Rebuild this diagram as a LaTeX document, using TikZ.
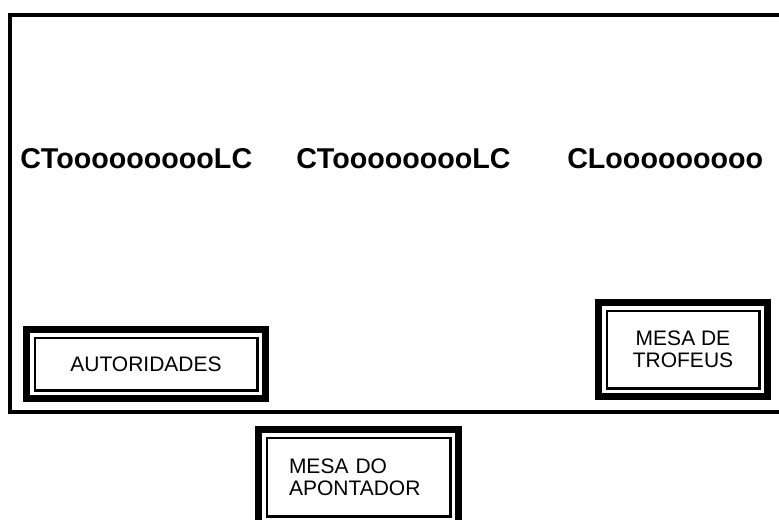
\documentclass[tikz,border=0pt]{standalone}
\usepackage{fontspec}
\setmainfont{Liberation Sans}
\usetikzlibrary{fit}
\begin{document}
\begin{tikzpicture}[x=0.75pt,y=-0.75pt,
  frameline/.style={line width=3pt,line join=miter,line cap=butt},
  boxtext/.style={font=\fontsize{15.75}{16.5}\selectfont},
  innerbox/.style={draw,line width=1.875pt,inner sep=0pt,boxtext,align=center},
  outerbox/.style={draw,line width=5.625pt,inner sep=5.25pt},
  seat/.style={anchor=base west,inner sep=0pt,font=\fontsize{21.5}{24}\selectfont\bfseries}
]
\useasboundingbox (0,0) rectangle (779,519);
\fill[white] (0,0) rectangle (779,519);
% field frame
\coordinate (ftr) at (781,15);
\coordinate (ftl) at (10,15);
\coordinate (fbl) at (10,412);
\coordinate (fbr) at (781,412);
\draw[frameline] (ftr) -- (ftl) -- (fbl) -- (fbr);
% seats text
\node[seat] (s1) at (20,168) {CToooooooooLC};
\node[seat] (s2) at (296,168) {CTooooooooLC};
\node[seat] (s3) at (567,168) {CLooooooooo};
% AUTORIDADES
\node[innerbox,minimum width=166.875pt,minimum height=39.375pt] (autin) at (146,364) {AUTORIDADES};
\node[outerbox,fit=(autin)] (autout) {};
% MESA DE TROFEUS
\node[innerbox,minimum width=114.375pt,minimum height=58.125pt] (trofin) at (683,349.5) {MESA DE\\TROFEUS};
\node[outerbox,fit=(trofin)] (trofout) {};
% MESA DO APONTADOR
\node[innerbox,align=left,text width=104.25pt,inner xsep=16.6875pt,minimum height=58.875pt] (apin) at (358.5,477) {MESA DO\\APONTADOR};
\node[outerbox,fit=(apin)] (apout) {};
\end{tikzpicture}
\end{document}
